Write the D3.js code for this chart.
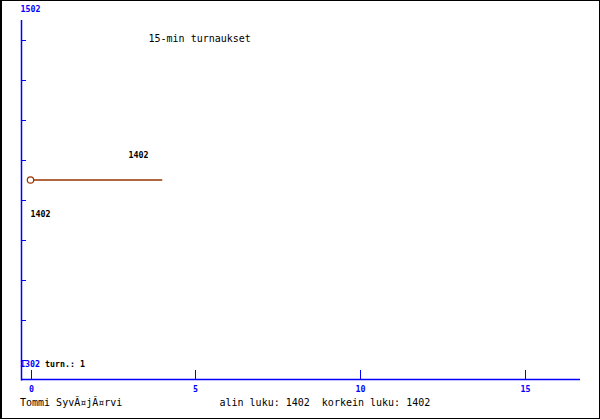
<!DOCTYPE html>
<html>
<head>
<meta charset="utf-8">
<script src="https://cdn.jsdelivr.net/npm/d3@7"></script>
<style>
html,body{margin:0;padding:0;background:#fff;}
svg{display:block;}
</style>
</head>
<body>
<svg id="c" width="600" height="420"></svg>
<script>
// ---- data ----
const title = "15-min turnaukset";
const player = "Tommi SyvÃ¤jÃ¤rvi";
const rounds = [0, 4];
const ratings = [1402, 1402];
const markerRounds = [0];
const xTicks = [0, 5, 10, 15];
const yMin = 1302, yMax = 1502;
const lowest = 1402, highest = 1402, tournaments = 1;

const svg = d3.select("#c");
const blue = "#0000ff", line = "#993300";
const mono = "'DejaVu Sans Mono', 'Liberation Mono', monospace";

// frame
svg.append("rect").attr("x",0).attr("y",0).attr("width",600).attr("height",420).attr("fill","#fff");
svg.append("line").attr("x1",1).attr("x2",1).attr("y1",0).attr("y2",419).attr("stroke","#000").attr("stroke-width",2);
svg.append("line").attr("x1",0).attr("x2",600).attr("y1",0.5).attr("y2",0.5).attr("stroke","#000");
svg.append("line").attr("x1",599.5).attr("x2",599.5).attr("y1",0).attr("y2",419).attr("stroke","#000");
svg.append("line").attr("x1",0).attr("x2",600).attr("y1",418.5).attr("y2",418.5).attr("stroke","#000");

const x = d3.scaleLinear().domain([0, 15]).range([30.5, 524.5]);
const y = d3.scaleLinear().domain([yMin, yMax]).range([340, 20]);
// tick scale for y-axis marks (9 evenly spaced marks)
const yt = d3.scaleLinear().domain([0, 9]).range([380, 20]);

// axes
svg.append("line").attr("x1",21.5).attr("x2",21.5).attr("y1",20).attr("y2",380.5).attr("stroke",blue).attr("stroke-width",1.5);
svg.append("line").attr("x1",21).attr("x2",580).attr("y1",379.5).attr("y2",379.5).attr("stroke",blue).attr("stroke-width",1.5);

d3.range(0.5, 9, 1).forEach(v => {
  svg.append("line").attr("x1",21).attr("x2",26).attr("y1",Math.round(yt(v))+0.5).attr("y2",Math.round(yt(v))+0.5).attr("stroke",blue);
});
xTicks.forEach(v => {
  const px = Math.round(x(v)) + 0.5;
  svg.append("line").attr("x1",px).attr("x2",px).attr("y1",370).attr("y2",380).attr("stroke",blue);
  svg.append("text").attr("x",px).attr("y",392).attr("text-anchor","middle")
    .attr("font-family",mono).attr("font-size","8.3px").attr("font-weight","bold").attr("fill",blue).text(v);
});

// y labels
svg.append("text").attr("x",20.5).attr("y",12).attr("font-family",mono).attr("font-size","8.3px").attr("font-weight","bold").attr("fill",blue).text(yMax);
const bl = svg.append("text").attr("x",20).attr("y",367).attr("font-family",mono).attr("font-size","8.3px").attr("font-weight","bold");
bl.append("tspan").attr("fill",blue).text(yMin);
bl.append("tspan").attr("fill","#000").text(" turn.: " + tournaments);

// series
const pts = rounds.map((r,i)=>[r, ratings[i]]);
svg.append("path").datum(pts)
  .attr("d", d3.line().x(d=>x(d[0])).y(d=>y(d[1])))
  .attr("fill","none").attr("stroke",line).attr("stroke-width",1.5);
markerRounds.forEach(r => {
  const i = rounds.indexOf(r);
  svg.append("circle").attr("cx",x(r)).attr("cy",y(ratings[i])).attr("r",3.2)
    .attr("fill","#fff").attr("stroke",line).attr("stroke-width",1.2);
});

// value labels
svg.append("text").attr("x",128.5).attr("y",157.5).attr("font-family",mono).attr("font-size","8.3px").attr("font-weight","bold").attr("fill","#000").text(highest);
svg.append("text").attr("x",30.5).attr("y",217).attr("font-family",mono).attr("font-size","8.3px").attr("font-weight","bold").attr("fill","#000").text(lowest);

// title & footer
svg.append("text").attr("x",148.5).attr("y",41.5).attr("font-family",mono).attr("font-size","10px").attr("fill","#000").text(title);
svg.append("text").attr("x",20).attr("y",405.5).attr("font-family",mono).attr("font-size","10px").attr("fill","#000").text(player);
svg.append("text").attr("x",219.5).attr("y",405.5).attr("font-family",mono).attr("font-size","10px").attr("fill","#000").attr("xml:space","preserve")
  .style("white-space","pre").text("alin luku: " + lowest + "  korkein luku: " + highest);
</script>
</body>
</html>
